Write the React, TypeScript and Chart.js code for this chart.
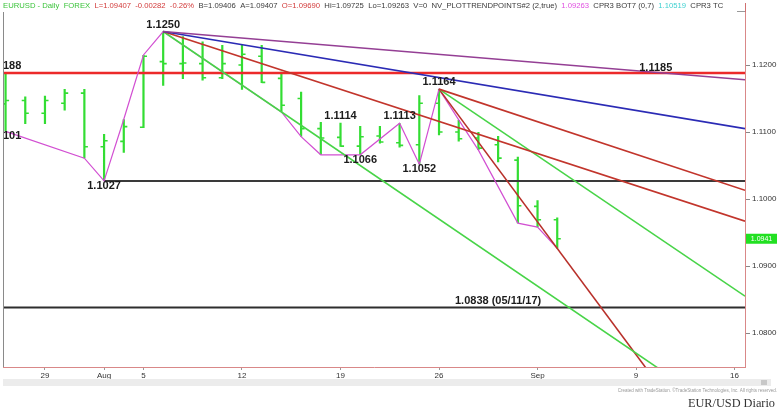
import React, { useEffect, useRef } from "react";
import { Chart, registerables } from "chart.js";

Chart.register(...registerables);

// ---------- DATA (trading-day index: 0 = Mon 29 Jul 2019) ----------
const X_MIN = -2.13;
const X_MAX = 35.53;
const Y_MIN = 1.07493;
const Y_MAX = 1.12791;

const tickIndex = [0, 3, 5, 10, 15, 20, 25, 30, 35];
const tickText = ["29", "Aug", "5", "12", "19", "26", "Sep", "9", "16"];
const priceTicks = [1.08, 1.09, 1.1, 1.11, 1.12];

const barDays = [-2, -1, 0, 1, 2, 3, 4, 5, 6, 7, 8, 9, 10, 11, 12, 13, 14, 15, 16, 17, 18, 19, 20, 21, 22, 23, 24, 25, 26];
const opens = [1.1142, 1.1147, 1.1128, 1.1143, 1.1158, 1.1078, 1.1086, 1.1107, 1.1205, 1.1202, 1.1202, 1.1181, 1.12, 1.1213, 1.118, 1.115, 1.1105, 1.1092, 1.1079, 1.1094, 1.1084, 1.1081, 1.1143, 1.11, 1.1091, 1.1081, 1.1058, 1.0989, 1.0969];
const highs = [1.1188, 1.1153, 1.1154, 1.1164, 1.1164, 1.1097, 1.1119, 1.1215, 1.125, 1.1243, 1.1235, 1.123, 1.123, 1.123, 1.119, 1.116, 1.1115, 1.1114, 1.1109, 1.1109, 1.1113, 1.1155, 1.1164, 1.1118, 1.11, 1.1094, 1.1063, 1.0998, 1.09725];
const lows = [1.1101, 1.1112, 1.1112, 1.1132, 1.1061, 1.1027, 1.1069, 1.1106, 1.1169, 1.1179, 1.1177, 1.1179, 1.1163, 1.1173, 1.113, 1.1093, 1.1066, 1.1078, 1.1066, 1.1083, 1.1077, 1.1052, 1.1095, 1.1086, 1.1073, 1.1055, 1.0964, 1.0958, 1.09263];
const closes = [1.1147, 1.1128, 1.1147, 1.1158, 1.1078, 1.1087, 1.1108, 1.1213, 1.1202, 1.1203, 1.1181, 1.1202, 1.1216, 1.1174, 1.114, 1.1105, 1.1091, 1.1079, 1.1093, 1.1085, 1.108, 1.1143, 1.11, 1.109, 1.1076, 1.1061, 1.099, 1.0969, 1.09407];

const zigzagIdx = [-2, 2, 3, 4, 5, 6, 12, 13, 14, 16, 18, 19, 20, 21, 22, 24, 25, 26];
const zigzagVal = [1.1101, 1.1061, 1.1027, 1.1119, 1.1215, 1.125, 1.113, 1.1093, 1.1066, 1.1066, 1.1113, 1.1052, 1.1164, 1.1118, 1.1073, 1.0964, 1.0958, 1.09263];

const trendStartIdx = [6, 6, 6, 6, 20, 20, 20];
const trendStartVal = [1.125, 1.125, 1.125, 1.125, 1.1164, 1.1164, 1.1164];
const trendEndIdx = [35.53, 35.53, 35.53, 36, 35.53, 35.53, 36];
const trendEndVal = [1.1178, 1.1105, 1.0967, 1.065, 1.1013, 1.0855, 1.053];

const levelVal = [1.1188, 1.1027, 1.0838];
const levelStartIdx = [X_MIN, 3, X_MIN];

const noteText = ["188", "101", "1.1250", "1.1027", "1.1114", "1.1066", "1.1113", "1.1052", "1.1164", "1.1185", "1.0838 (05/11/17)"];
const noteIdx = [X_MIN, X_MIN, 6, 3, 15, 16, 18, 19, 20, 31, 23];
const noteVal = [1.1188, 1.1101, 1.125, 1.1027, 1.1114, 1.1066, 1.1113, 1.1052, 1.1164, 1.1185, 1.0838];
const noteSide = ["above", "below", "above", "below", "above", "below", "above", "below", "above", "above", "above"];

const headerText = ["EURUSD - Daily  FOREX", "L=1.09407", "-0.00282", "-0.26%", "B=1.09406", "A=1.09407", "O=1.09690", "Hi=1.09725", "Lo=1.09263", "V=0", "NV_PLOTTRENDPOINTS#2 (2,true)", "1.09263", "CPR3 BOT7 (0,7)", "1.10519", "CPR3 TC"];
const lastPrice = closes[closes.length - 1];

// ---------- STYLES ----------
const headerColors = ["#3cc43c", "#d23a3a", "#d23a3a", "#d23a3a", "#3a3a3a", "#3a3a3a", "#d23a3a", "#3a3a3a", "#3a3a3a", "#3a3a3a", "#3a3a3a", "#e050e0", "#3a3a3a", "#3fd0d0", "#3a3a3a"];
const trendColors = ["#943f94", "#2b2bb5", "#c2352c", "#48d448", "#c2352c", "#48d448", "#b8302a"];
const levelColors = ["#ec2a2a", "#3a3a3a", "#2e2e2e"];
const BAR_GREEN = "#33dd33";
const TICK_W = 0.18;

function buildDatasets() {
  const ds: any[] = [];
  trendStartIdx.forEach((s, k) => {
    ds.push({
      data: [{ x: s, y: trendStartVal[k] }, { x: trendEndIdx[k], y: trendEndVal[k] }],
      borderColor: trendColors[k], borderWidth: 1.6, pointRadius: 0, clip: 0, tension: 0,
    });
  });
  ds.push({
    data: zigzagIdx.map((x, k) => ({ x, y: zigzagVal[k] })),
    borderColor: "#d24fd2", borderWidth: 1.2, pointRadius: 0, clip: 0, tension: 0,
  });
  levelVal.forEach((v, k) => {
    ds.push({
      data: [{ x: levelStartIdx[k], y: v }, { x: X_MAX, y: v }],
      borderColor: levelColors[k], borderWidth: k === 0 ? 2.4 : 2, pointRadius: 0, clip: 0,
    });
  });
  const hl: any[] = [];
  const op: any[] = [];
  const cl: any[] = [];
  barDays.forEach((d, k) => {
    hl.push({ x: d, y: lows[k] }, { x: d, y: highs[k] }, { x: d, y: null });
    op.push({ x: d - TICK_W, y: opens[k] }, { x: d, y: opens[k] }, { x: d, y: null });
    cl.push({ x: d, y: closes[k] }, { x: d + TICK_W, y: closes[k] }, { x: d, y: null });
  });
  [hl, op, cl].forEach((data, k) => {
    ds.push({
      data, borderColor: BAR_GREEN, borderWidth: k === 0 ? 2.2 : 1.6, pointRadius: 0,
      spanGaps: false, clip: 0, borderCapStyle: "butt",
    });
  });
  return ds;
}

const overlay = {
  id: "overlay",
  beforeDraw(chart: any) {
    const { ctx, width, height } = chart;
    ctx.save();
    ctx.fillStyle = "#ffffff";
    ctx.fillRect(0, 0, width, height);
    ctx.restore();
  },
  afterDatasetsDraw(chart: any) {
    const { ctx, chartArea } = chart;
    const xs = chart.scales.x;
    const ys = chart.scales.y;
    ctx.save();
    ctx.beginPath();
    ctx.rect(chartArea.left, 0, chartArea.right - chartArea.left, chartArea.bottom);
    ctx.clip();
    ctx.font = "bold 11px Arial";
    ctx.fillStyle = "#1c1c1c";
    ctx.textBaseline = "middle";
    noteText.forEach((t, k) => {
      const atEdge = noteIdx[k] === X_MIN;
      const px = atEdge ? chartArea.left : xs.getPixelForValue(noteIdx[k]);
      let py = ys.getPixelForValue(noteVal[k]) + (noteSide[k] === "above" ? -7 : 5);
      if (py < chartArea.top + 9) py = chartArea.top + 9;
      ctx.textAlign = atEdge ? "left" : "center";
      ctx.fillText(t, px, py);
    });
    ctx.restore();

    // left border
    ctx.save();
    ctx.strokeStyle = "#8a8a8a";
    ctx.lineWidth = 1;
    ctx.beginPath();
    ctx.moveTo(chartArea.left + 0.5, chartArea.top);
    ctx.lineTo(chartArea.left + 0.5, chartArea.bottom);
    ctx.stroke();
    ctx.restore();
  },
  afterDraw(chart: any) {
    const { ctx, chartArea } = chart;
    const ys = chart.scales.y;
    ctx.save();
    // header
    ctx.font = "7.7px Arial";
    ctx.textBaseline = "middle";
    ctx.textAlign = "left";
    let x = 3;
    const gap = ctx.measureText("  ").width;
    headerText.forEach((t, k) => {
      ctx.fillStyle = headerColors[k];
      ctx.fillText(t, x, 6);
      x += ctx.measureText(t).width + gap;
    });
    // top-right corner marks
    ctx.strokeStyle = "#d07070";
    ctx.lineWidth = 1;
    ctx.beginPath();
    ctx.moveTo(chartArea.right + 0.5, 3);
    ctx.lineTo(chartArea.right + 0.5, chartArea.top);
    ctx.stroke();
    ctx.strokeStyle = "#999";
    ctx.beginPath();
    ctx.moveTo(chartArea.right - 8, chartArea.top - 0.5);
    ctx.lineTo(chartArea.right, chartArea.top - 0.5);
    ctx.stroke();

    // last price box
    const py = ys.getPixelForValue(lastPrice);
    ctx.fillStyle = "#22e022";
    ctx.fillRect(chartArea.right + 1, py - 5, 31, 10);
    ctx.fillStyle = "#ffffff";
    ctx.font = "7px Arial";
    ctx.textAlign = "center";
    ctx.fillText(lastPrice.toFixed(4), chartArea.right + 16.5, py);

    // scroll band
    ctx.fillStyle = "#ececec";
    ctx.fillRect(chartArea.left, 379, 768, 7);
    ctx.fillStyle = "#c8c8c8";
    ctx.fillRect(761, 380, 6, 5);
    ctx.fillStyle = "#999";
    ctx.font = "4.5px Arial";
    ctx.textAlign = "right";
    ctx.fillText("Created with TradeStation. \u00A9TradeStation Technologies, Inc. All rights reserved.", 777, 391);

    // caption
    ctx.fillStyle = "#333";
    ctx.font = "12.3px 'Liberation Serif', serif";
    ctx.textAlign = "right";
    ctx.fillText("EUR/USD Diario", 775, 404);
    ctx.restore();
  },
};

export default function App() {
  const ref = useRef<HTMLCanvasElement>(null);
  useEffect(() => {
    const canvas = ref.current;
    if (!canvas) return;
    const chart = new Chart(canvas, {
      type: "line",
      data: { datasets: buildDatasets() },
      options: {
        animation: false,
        responsive: false,
        devicePixelRatio: 1,
        events: [],
        layout: { padding: { left: 3, top: 12, right: 0, bottom: 0 } },
        plugins: { legend: { display: false }, tooltip: { enabled: false } },
        scales: {
          x: {
            type: "linear",
            min: X_MIN,
            max: X_MAX,
            afterBuildTicks: (s: any) => {
              s.ticks = tickIndex.map((v) => ({ value: v }));
            },
            afterFit: (s: any) => {
              s.height = 50;
            },
            ticks: {
              autoSkip: false,
              maxRotation: 0,
              padding: 1,
              color: "#333",
              font: { family: "Arial", size: 8 },
              callback: (v: any) => tickText[tickIndex.indexOf(Number(v))] ?? "",
            },
            grid: { drawOnChartArea: false, drawTicks: true, tickLength: 3, color: "#999" },
            border: { color: "#d98888", width: 1 },
          },
          y: {
            type: "linear",
            position: "right",
            min: Y_MIN,
            max: Y_MAX,
            afterBuildTicks: (s: any) => {
              s.ticks = priceTicks.map((v) => ({ value: v }));
            },
            afterFit: (s: any) => {
              s.width = 37;
            },
            ticks: {
              padding: 2,
              color: "#333",
              font: { family: "Arial", size: 8 },
              callback: (v: any) => Number(v).toFixed(4),
            },
            grid: { drawOnChartArea: false, drawTicks: true, tickLength: 5, color: "#888" },
            border: { color: "#d98888", width: 1 },
          },
        },
      },
      plugins: [overlay],
    } as any);
    return () => chart.destroy();
  }, []);
  return (
    <div style={{ position: "fixed", left: 0, top: 0, width: 782, height: 417, background: "#fff" }}>
      <canvas ref={ref} width={782} height={417} style={{ display: "block", width: 782, height: 417 }} />
    </div>
  );
}
